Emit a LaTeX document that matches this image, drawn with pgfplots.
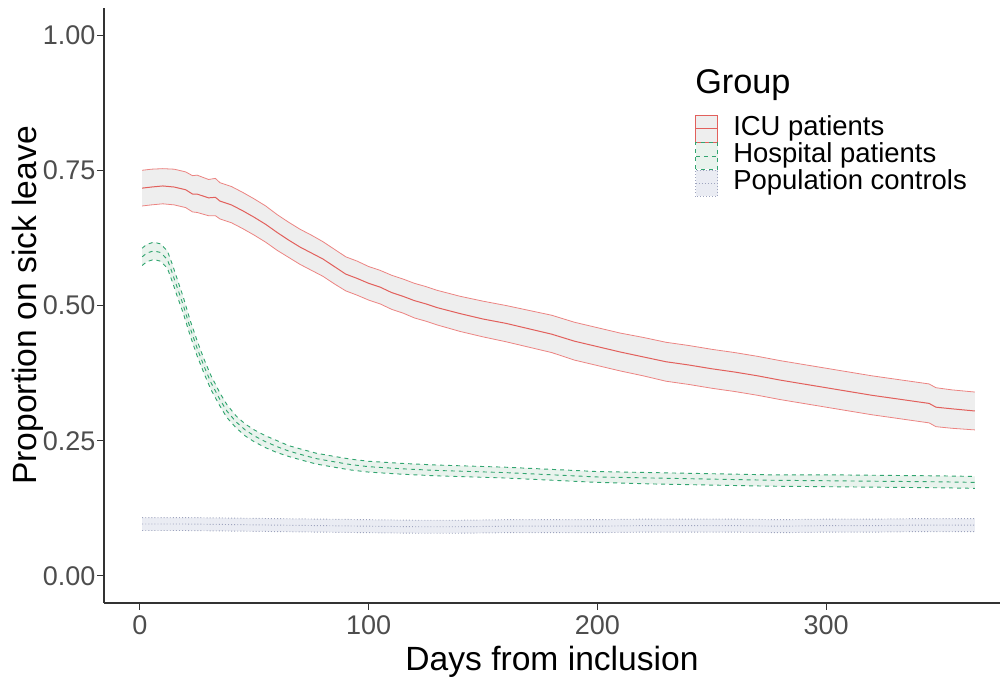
\documentclass[border=0pt]{standalone}
\usepackage{fontspec}
\setmainfont{Liberation Sans}
\usepackage{pgfplots}
\usepackage{pgfplotstable}
\pgfplotsset{compat=1.18}
\usepgfplotslibrary{fillbetween}

\definecolor{cICU}{RGB}{226,96,92}
\definecolor{cICUedge}{RGB}{236,132,130}
\definecolor{cICUfill}{RGB}{238,238,238}
\definecolor{cHosp}{RGB}{50,165,112}
\definecolor{cHospfill}{RGB}{233,243,237}
\definecolor{cPop}{RGB}{158,164,190}
\definecolor{cPopfill}{RGB}{234,236,243}
\definecolor{cAxis}{RGB}{51,51,51}
\definecolor{cTick}{RGB}{77,77,77}

% day, mean, lower and upper limit of the proportion on sick leave
\pgfplotstableread{
day mid lo hi
1 0.717 0.684 0.750
5 0.719 0.686 0.752
10 0.721 0.688 0.753
15 0.719 0.686 0.752
20 0.714 0.681 0.747
23 0.706 0.673 0.740
25 0.706 0.672 0.741
30 0.699 0.666 0.733
33 0.700 0.666 0.735
35 0.693 0.660 0.727
40 0.686 0.653 0.720
45 0.675 0.642 0.709
50 0.663 0.630 0.697
55 0.650 0.617 0.684
60 0.635 0.602 0.668
65 0.621 0.589 0.654
70 0.608 0.576 0.641
75 0.597 0.565 0.630
80 0.586 0.554 0.618
85 0.572 0.540 0.604
90 0.558 0.527 0.590
95 0.550 0.519 0.582
100 0.541 0.510 0.572
105 0.534 0.503 0.565
110 0.524 0.493 0.556
115 0.517 0.486 0.549
120 0.509 0.477 0.541
125 0.503 0.471 0.535
130 0.496 0.464 0.528
140 0.485 0.452 0.517
150 0.475 0.442 0.508
160 0.467 0.433 0.500
170 0.457 0.423 0.491
180 0.447 0.413 0.482
190 0.434 0.399 0.469
200 0.424 0.389 0.459
210 0.414 0.379 0.449
220 0.405 0.370 0.441
230 0.396 0.360 0.432
240 0.390 0.354 0.426
250 0.383 0.347 0.419
260 0.377 0.341 0.413
270 0.370 0.334 0.406
280 0.362 0.326 0.398
290 0.355 0.319 0.391
300 0.348 0.312 0.384
310 0.341 0.305 0.377
320 0.334 0.298 0.370
330 0.328 0.292 0.364
340 0.322 0.286 0.358
345 0.319 0.283 0.355
348 0.312 0.276 0.348
355 0.309 0.273 0.344
365 0.305 0.270 0.340
}\icu

\pgfplotstableread{
day mid lo hi
1 0.590 0.574 0.606
3 0.597 0.581 0.613
6 0.601 0.585 0.617
9 0.598 0.582 0.614
12 0.585 0.569 0.601
14 0.562 0.546 0.578
16 0.537 0.521 0.553
19 0.500 0.485 0.515
22 0.458 0.444 0.472
25 0.421 0.407 0.435
28 0.388 0.375 0.401
31 0.358 0.345 0.371
35 0.326 0.314 0.338
38 0.305 0.293 0.317
42 0.285 0.274 0.296
46 0.270 0.259 0.281
50 0.259 0.248 0.270
55 0.248 0.237 0.259
60 0.239 0.228 0.250
65 0.231 0.221 0.241
70 0.225 0.215 0.235
77 0.217 0.207 0.227
85 0.211 0.201 0.221
92 0.206 0.196 0.216
100 0.202 0.192 0.212
115 0.198 0.188 0.208
130 0.195 0.185 0.205
145 0.193 0.183 0.203
160 0.191 0.181 0.201
180 0.187 0.177 0.197
200 0.183 0.173 0.193
225 0.181 0.170 0.191
250 0.179 0.168 0.189
275 0.177 0.166 0.187
300 0.176 0.165 0.187
325 0.175 0.164 0.186
350 0.174 0.163 0.185
365 0.173 0.162 0.184
}\hosp

\pgfplotstableread{
day mid lo hi
1 0.096 0.084 0.108
20 0.096 0.084 0.108
40 0.095 0.083 0.107
60 0.094 0.082 0.106
80 0.093 0.081 0.105
100 0.092 0.080 0.104
120 0.091 0.079 0.103
140 0.091 0.079 0.103
160 0.092 0.080 0.104
180 0.092 0.080 0.104
200 0.092 0.080 0.104
220 0.093 0.081 0.105
240 0.093 0.081 0.105
260 0.093 0.081 0.105
280 0.092 0.080 0.104
300 0.093 0.081 0.105
320 0.093 0.081 0.105
340 0.094 0.082 0.106
365 0.094 0.082 0.106
}\pop

\pgfplotsset{
  keybox/.style n args={3}{legend image code/.code={
    \draw[#1, #2, fill=#3, line width=0.6pt] (0pt,-9.9pt) rectangle (16.5pt,9.9pt);
    \draw[#1, #2, line width=0.75pt] (0pt,0pt) -- (16.5pt,0pt);}},
}

\begin{document}
\begin{tikzpicture}
\begin{axis}[
  scale only axis, width=672pt, height=446.25pt,
  xmin=-15.7, xmax=376, ymin=-0.05, ymax=1.05,
  axis lines*=left,
  axis line style={cAxis, line width=0.8pt},
  tick align=outside, major tick length=5.25pt,
  tick style={cAxis, line width=0.8pt},
  xtick={0,100,200,300}, ytick={0,0.25,0.5,0.75,1},
  yticklabel style={/pgf/number format/fixed, /pgf/number format/fixed zerofill,
    /pgf/number format/precision=2},
  tick label style={font=\fontsize{20.25}{24}\selectfont, color=cTick, inner sep=0pt},
  /pgf/number format/assume math mode=true,
  xticklabel style={yshift=-4pt},
  yticklabel style={xshift=-1pt},
  label style={font=\fontsize{25.2}{30}\selectfont, color=black},
  xlabel={Days from inclusion},
  ylabel={Proportion on sick leave},
  xlabel style={at={(axis description cs:0.5,0)}, anchor=base, yshift=-50.25pt},
  ylabel style={at={(axis description cs:-0.0848,0.5)}, anchor=center},
  legend style={at={(axis description cs:0.6596,0.8202)}, anchor=north west,
    draw=none, fill=none, inner sep=0pt, row sep=0pt,
    font=\fontsize{20.6}{24}\selectfont,
    nodes={inner sep=0pt, text height=14.9pt, text depth=5pt},
    /tikz/every odd column/.append style={column sep=11.25pt},
    legend cell align=left},
]
\addplot[draw=none, name path=icuhi, forget plot] table[x=day, y=hi] {\icu};
\addplot[draw=none, name path=iculo, forget plot] table[x=day, y=lo] {\icu};
\addplot[fill=cICUfill, draw=none, forget plot] fill between[of=icuhi and iculo];
\addplot[draw=none, name path=hosphi, forget plot] table[x=day, y=hi] {\hosp};
\addplot[draw=none, name path=hosplo, forget plot] table[x=day, y=lo] {\hosp};
\addplot[fill=cHospfill, draw=none, forget plot] fill between[of=hosphi and hosplo];
\addplot[draw=none, name path=pophi, forget plot] table[x=day, y=hi] {\pop};
\addplot[draw=none, name path=poplo, forget plot] table[x=day, y=lo] {\pop};
\addplot[fill=cPopfill, draw=none, forget plot] fill between[of=pophi and poplo];

\addplot[cICUedge, line width=0.6pt, forget plot] table[x=day, y=hi] {\icu};
\addplot[cICUedge, line width=0.6pt, forget plot] table[x=day, y=lo] {\icu};
\addplot[cICU, line width=0.75pt, forget plot] table[x=day, y=mid] {\icu};
\addplot[cHosp, dash pattern=on 3pt off 3pt, line width=0.7pt, forget plot] table[x=day, y=hi] {\hosp};
\addplot[cHosp, dash pattern=on 3pt off 3pt, line width=0.7pt, forget plot] table[x=day, y=lo] {\hosp};
\addplot[cHosp, dash pattern=on 3pt off 3pt, line width=0.7pt, forget plot] table[x=day, y=mid] {\hosp};
\addplot[cPop, dash pattern=on 0.7pt off 1.6pt, line width=0.7pt, forget plot] table[x=day, y=hi] {\pop};
\addplot[cPop, dash pattern=on 0.7pt off 1.6pt, line width=0.7pt, forget plot] table[x=day, y=lo] {\pop};
\addplot[cPop, dash pattern=on 0.7pt off 1.6pt, line width=0.7pt, forget plot] table[x=day, y=mid] {\pop};

\addlegendimage{keybox={cICU}{solid}{cICUfill}}
\addlegendimage{keybox={cHosp}{dash pattern=on 3pt off 3pt}{cHospfill}}
\addlegendimage{keybox={cPop}{dash pattern=on 0.7pt off 1.6pt}{cPopfill}}
\legend{ICU patients, Hospital patients, Population controls}

\node[anchor=base west, font=\fontsize{25.7}{30}\selectfont, inner sep=0pt]
  at (axis description cs:0.6596,0.857) {Group};
\end{axis}
\pgfresetboundingbox
\path (-78pt,-57pt) rectangle (672.75pt,452.25pt);
\end{tikzpicture}
\end{document}
